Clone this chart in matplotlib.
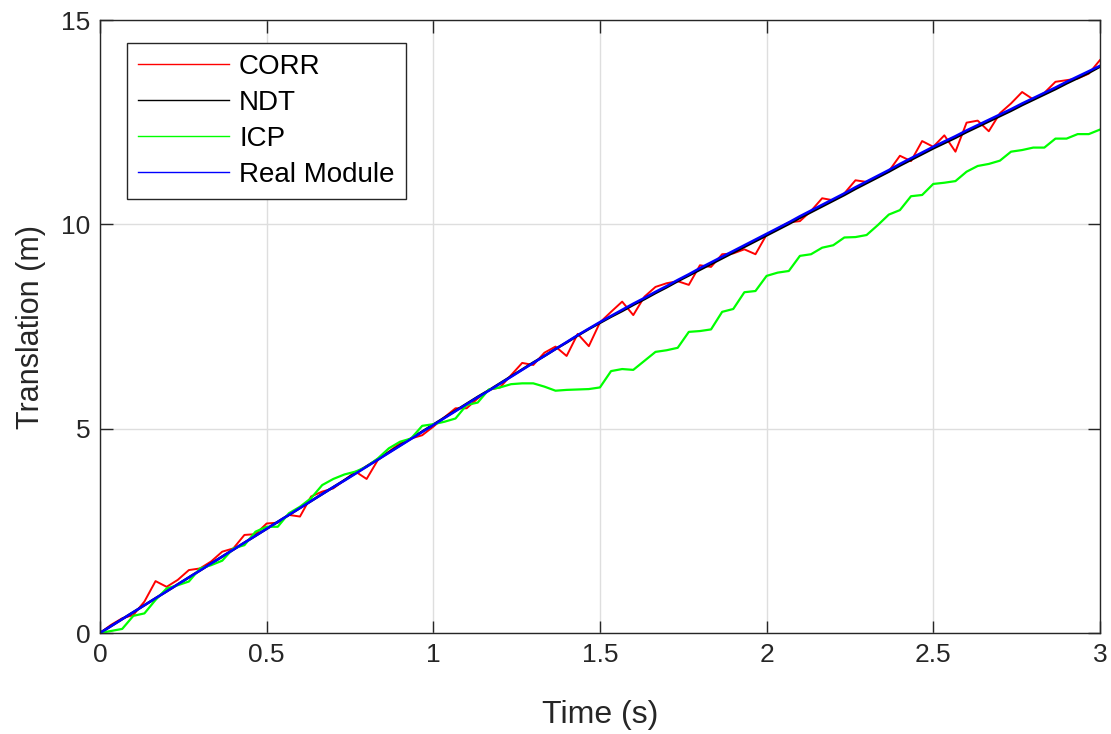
import numpy as np
import matplotlib
matplotlib.use('Agg')
import matplotlib.pyplot as plt

plt.rcParams['font.family'] = ['Liberation Sans', 'DejaVu Sans']

# sampling times: 91 samples, 1/30 s apart
time = np.arange(91) / 30.0

corr = [0.00, 0.20, 0.36, 0.44, 0.77, 1.27, 1.13, 1.30, 1.54, 1.58, 1.75, 1.99, 2.07, 2.40, 2.42, 2.68,
        2.70, 2.89, 2.85, 3.34, 3.46, 3.54, 3.74, 3.95, 3.77, 4.23, 4.44, 4.64, 4.76, 4.84, 5.05,
        5.28, 5.50, 5.50, 5.74, 5.95, 6.01, 6.31, 6.61, 6.56, 6.86, 7.01, 6.78, 7.32, 7.02, 7.60,
        7.86, 8.11, 7.78, 8.23, 8.47, 8.56, 8.61, 8.52, 9.00, 8.96, 9.27, 9.29, 9.39, 9.27, 9.75,
        9.90, 10.05, 10.08, 10.33, 10.64, 10.59, 10.76, 11.08, 11.04, 11.17, 11.30, 11.68, 11.55, 12.04, 11.90,
        12.18, 11.78, 12.49, 12.54, 12.28, 12.72, 12.96, 13.24, 13.06, 13.22, 13.49, 13.53, 13.57, 13.69, 14.02]

icp = [0.00, 0.05, 0.10, 0.42, 0.48, 0.81, 1.09, 1.17, 1.26, 1.58, 1.66, 1.77, 2.07, 2.15, 2.48, 2.60,
       2.60, 2.93, 3.09, 3.30, 3.62, 3.77, 3.88, 3.95, 4.07, 4.27, 4.52, 4.68, 4.76, 5.07, 5.11,
       5.17, 5.25, 5.58, 5.64, 5.96, 6.01, 6.09, 6.11, 6.11, 6.03, 5.93, 5.95, 5.96, 5.97, 6.01,
       6.41, 6.46, 6.44, 6.66, 6.88, 6.92, 6.98, 7.37, 7.39, 7.43, 7.86, 7.93, 8.34, 8.37, 8.74,
       8.82, 8.86, 9.23, 9.27, 9.43, 9.49, 9.68, 9.69, 9.74, 9.98, 10.24, 10.35, 10.69, 10.72, 10.99,
       11.02, 11.06, 11.29, 11.43, 11.48, 11.56, 11.78, 11.82, 11.88, 11.88, 12.10, 12.10, 12.21, 12.21, 12.32]

real = [0.00, 0.17, 0.34, 0.51, 0.68, 0.85, 1.02, 1.19, 1.36, 1.53, 1.70, 1.87, 2.04, 2.21, 2.38, 2.55,
        2.72, 2.89, 3.06, 3.23, 3.40, 3.57, 3.73, 3.90, 4.07, 4.24, 4.41, 4.58, 4.75, 4.92, 5.09,
        5.26, 5.43, 5.60, 5.77, 5.93, 6.10, 6.27, 6.44, 6.61, 6.78, 6.95, 7.12, 7.29, 7.45, 7.61,
        7.76, 7.91, 8.06, 8.20, 8.35, 8.49, 8.64, 8.78, 8.93, 9.07, 9.21, 9.35, 9.49, 9.63, 9.77,
        9.91, 10.05, 10.20, 10.34, 10.48, 10.62, 10.76, 10.91, 11.05, 11.19, 11.33, 11.48, 11.62, 11.76, 11.90,
        12.03, 12.16, 12.30, 12.43, 12.56, 12.69, 12.82, 12.96, 13.09, 13.22, 13.35, 13.49, 13.62, 13.75, 13.88]

ndt = [0.00, 0.17, 0.34, 0.51, 0.68, 0.85, 1.02, 1.19, 1.36, 1.53, 1.70, 1.87, 2.04, 2.21, 2.38, 2.55,
       2.72, 2.89, 3.06, 3.23, 3.40, 3.57, 3.74, 3.91, 4.08, 4.25, 4.42, 4.59, 4.76, 4.93, 5.10,
       5.27, 5.44, 5.61, 5.78, 5.94, 6.11, 6.28, 6.45, 6.62, 6.78, 6.95, 7.11, 7.28, 7.44, 7.59,
       7.74, 7.88, 8.03, 8.17, 8.32, 8.46, 8.61, 8.75, 8.89, 9.03, 9.17, 9.31, 9.45, 9.59, 9.73,
       9.87, 10.01, 10.16, 10.30, 10.44, 10.58, 10.72, 10.87, 11.01, 11.15, 11.29, 11.44, 11.58, 11.72, 11.86,
       11.99, 12.12, 12.26, 12.39, 12.52, 12.65, 12.78, 12.92, 13.05, 13.18, 13.31, 13.45, 13.58, 13.71, 13.86]

fig = plt.figure(figsize=(11.11, 7.34), dpi=100)
ax = fig.add_axes([0.09, 0.1376, 0.9, 0.835])

ax.plot(time, corr, color='#ff0000', linewidth=1.4, label='CORR')
ax.plot(time, ndt, color='#000000', linewidth=1.8, label='NDT')
ax.plot(time, icp, color='#00ff00', linewidth=1.6, label='ICP')
ax.plot(time, real, color='#0000ff', linewidth=1.8, label='Real Module')

ax.set_xlim(0, 3)
ax.set_ylim(0, 15)
ax.set_xticks([0, 0.5, 1, 1.5, 2, 2.5, 3])
ax.set_xticklabels(['0', '0.5', '1', '1.5', '2', '2.5', '3'])
ax.set_yticks([0, 5, 10, 15])

ax.grid(True, color='#dedede', linewidth=1.0)
ax.set_axisbelow(True)
for s in ax.spines.values():
    s.set_color('#262626')
    s.set_linewidth(1.0)
ax.tick_params(direction='in', length=9, width=1.0, colors='#262626',
               labelsize=19, top=True, right=True, pad=7)

ax.set_xlabel('Time (s)', fontsize=23, color='#262626', labelpad=24)
ax.set_ylabel('Translation (m)', fontsize=22, color='#262626', labelpad=11)

leg = ax.legend(loc='upper left', bbox_to_anchor=(0.021, 0.972), fontsize=20,
                handlelength=3.3, handletextpad=0.35, borderpad=0.4, labelspacing=0.36,
                borderaxespad=0.2, fancybox=False, edgecolor='#262626', framealpha=1)
leg.get_frame().set_linewidth(1.0)
for line in leg.get_lines():
    line.set_linewidth(1.0)

fig.savefig('out.png', dpi=100)
